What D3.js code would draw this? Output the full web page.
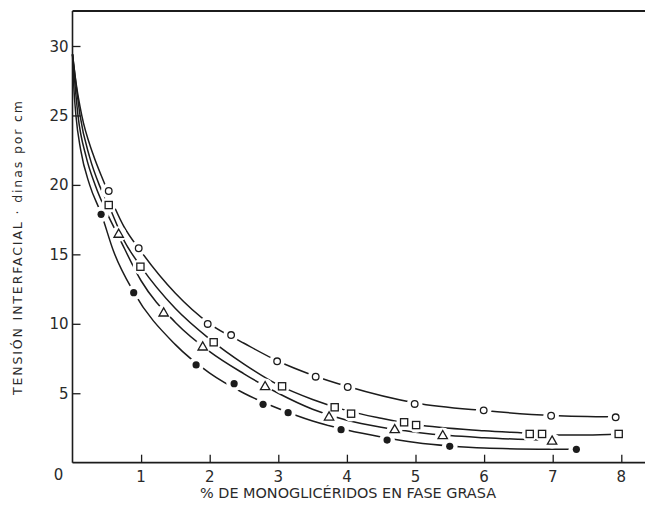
<!DOCTYPE html>
<html><head><meta charset="utf-8">
<script src="https://cdn.jsdelivr.net/npm/d3@7"></script>
<style>body{margin:0;background:#fff}svg{display:block}</style>
</head><body>
<svg id="c" width="645" height="514"></svg>
<script>
// ---- data ----
const xTicks = [1,2,3,4,5,6,7,8];
const yTicks = [5,10,15,20,25,30];
const xLabel = "% DE MONOGLICÉRIDOS EN FASE GRASA";
const yLabel = "TENSIÓN INTERFACIAL · dinas por cm";

// open circles
const circleX = [0.528,0.965,1.971,2.312,2.983,3.545,4.012,4.988,5.994,6.977,7.918];
const circleY = [19.56,15.44,9.99,9.19,7.30,6.19,5.45,4.23,3.77,3.38,3.27];
// open squares
const squareX = [0.528,0.990,2.058,3.055,3.822,4.061,4.834,5.009,6.665,6.845,7.962];
const squareY = [18.55,14.11,8.67,5.50,3.99,3.53,2.91,2.71,2.07,2.07,2.07];
// open triangles
const triX = [0.673,1.329,1.898,2.808,3.740,4.697,5.397,6.991];
const triY = [16.47,10.80,8.35,5.50,3.31,2.40,1.97,1.58];
// filled circles
const dotX = [0.417,0.892,1.802,2.356,2.778,3.143,3.915,4.586,5.499,7.345];
const dotY = [17.88,12.24,7.04,5.69,4.20,3.60,2.38,1.63,1.18,0.96];

// fitted curves
const circleCurveX = [0,0.05,0.135,0.3,0.45,0.75,1,1.5,2,2.5,3,3.5,4,5,6,7,7.92];
const circleCurveY = [29.4,27.4,25.0,22.2,20.3,17.0,15.2,12.2,10.0,8.6,7.3,6.3,5.5,4.3,3.75,3.4,3.3];
const squareCurveX = [0,0.05,0.11,0.25,0.39,0.53,0.75,1,1.5,2,2.5,3,3.5,4,4.5,5,6,6.7,7,7.5,7.96];
const squareCurveY = [29.4,27.3,25.0,22.0,20.0,18.5,16.0,14.1,11.1,8.9,7.1,5.6,4.55,3.75,3.2,2.75,2.3,2.1,2.0,2.0,2.07];
const triCurveX = [0,0.04,0.08,0.2,0.33,0.5,0.67,1,1.5,2,2.5,3,3.5,4,4.5,5,5.5,6,7];
const triCurveY = [29.4,27.0,25.0,22.0,20.0,18.0,16.3,13.1,10.1,8.0,6.4,5.0,3.85,3.05,2.55,2.2,1.95,1.8,1.6];
const dotCurveX = [0,0.02,0.05,0.12,0.25,0.42,0.6,0.89,1.5,2,2.5,3,3.5,4,4.5,5,5.5,6,7,7.35];
const dotCurveY = [29.4,27.0,25.0,22.5,20.0,17.9,15.2,12.3,8.5,6.45,5.0,3.9,3.0,2.35,1.85,1.45,1.2,1.05,0.97,0.96];

// ---- drawing ----
const svg = d3.select("#c");
const W = 645, H = 514;
const x = d3.scaleLinear().domain([0,8]).range([72.5, 621.3]);
const y = d3.scaleLinear().domain([0,30]).range([462.7, 46]);
const ink = "#1c1c1c";

const zip = (a,b) => a.map((v,i)=>[v,b[i]]);
const series = [
  {pts: zip(circleX,circleY), curve: zip(circleCurveX,circleCurveY), shape:"circle"},
  {pts: zip(squareX,squareY), curve: zip(squareCurveX,squareCurveY), shape:"square"},
  {pts: zip(triX,triY), curve: zip(triCurveX,triCurveY), shape:"triangle"},
  {pts: zip(dotX,dotY), curve: zip(dotCurveX,dotCurveY), shape:"dot"}
];

// curves first, so the frame and halos sit on top
const line = d3.line().x(d=>x(d[0])).y(d=>y(d[1])).curve(d3.curveMonotoneX);
svg.append("g").selectAll("path").data(series).join("path")
  .attr("d",d=>line(d.curve)).attr("fill","none").attr("stroke",ink).attr("stroke-width",1.5);

// white halos that break the lines around markers
const allPts = series.flatMap(s=>s.pts.map(p=>({p, shape:s.shape})));
svg.append("g").selectAll("circle").data(allPts).join("circle")
  .attr("cx",d=>x(d.p[0])).attr("cy",d=>y(d.p[1])).attr("r",7.8).attr("fill","#fff");

// frame: left axis, bottom axis, top border
const topVal = y.invert(11);
svg.append("line").attr("x1",x(0)).attr("x2",x(0)).attr("y1",y(topVal)).attr("y2",y(0))
  .attr("stroke",ink).attr("stroke-width",1.6);
svg.append("line").attr("x1",x(0)).attr("x2",W).attr("y1",y(0)).attr("y2",y(0))
  .attr("stroke",ink).attr("stroke-width",1.8);
svg.append("line").attr("x1",x(0)).attr("x2",W).attr("y1",y(topVal)).attr("y2",y(topVal))
  .attr("stroke",ink).attr("stroke-width",1.8);

// axes with inward ticks
const fontFam = "'DejaVu Sans', sans-serif";
const gx = svg.append("g").attr("transform",`translate(0,${y(0)})`)
  .call(d3.axisTop(x).tickValues(xTicks).tickSize(8).tickFormat(""));
gx.select(".domain").remove();
gx.selectAll("line").attr("stroke",ink).attr("stroke-width",1.3);
svg.append("g").selectAll("text").data(xTicks).join("text")
  .attr("x",d=>x(d)).attr("y",y(0)+19).attr("text-anchor","middle")
  .attr("font-family",fontFam).attr("font-size",15).attr("fill","#2a2a2a").text(d=>d);

const gy = svg.append("g").attr("transform",`translate(${x(0)},0)`)
  .call(d3.axisRight(y).tickValues(yTicks).tickSize(8).tickFormat(""));
gy.select(".domain").remove();
gy.selectAll("line").attr("stroke",ink).attr("stroke-width",1.3);
svg.append("g").selectAll("text").data(yTicks).join("text")
  .attr("x",x(0)-4).attr("y",d=>y(d)+5.5).attr("text-anchor","end")
  .attr("font-family",fontFam).attr("font-size",15).attr("fill","#2a2a2a").text(d=>d);
svg.append("text").attr("x",x(0)-14).attr("y",y(0)+17).attr("text-anchor","middle")
  .attr("font-family",fontFam).attr("font-size",15).attr("fill","#2a2a2a").text("0");

// axis titles
svg.append("text").attr("x",348).attr("y",497.5).attr("text-anchor","middle")
  .attr("font-family",fontFam).attr("font-size",13.5)
  .attr("textLength",296).attr("lengthAdjust","spacingAndGlyphs")
  .attr("fill","#2a2a2a").text(xLabel);
svg.append("text").attr("transform","translate(22,248) rotate(-90)").attr("text-anchor","middle")
  .attr("font-family",fontFam).attr("font-size",12.5)
  .attr("textLength",294).attr("lengthAdjust","spacing")
  .attr("fill","#2a2a2a").text(yLabel);

// markers
const mg = svg.append("g");
allPts.forEach(d=>{
  const cx = x(d.p[0]), cy = y(d.p[1]);
  if (d.shape==="circle") {
    mg.append("circle").attr("cx",cx).attr("cy",cy).attr("r",3.3)
      .attr("fill","#fff").attr("stroke",ink).attr("stroke-width",1.3);
  } else if (d.shape==="square") {
    mg.append("rect").attr("x",cx-3.6).attr("y",cy-3.6).attr("width",7.2).attr("height",7.2)
      .attr("fill","#fff").attr("stroke",ink).attr("stroke-width",1.3);
  } else if (d.shape==="triangle") {
    mg.append("path").attr("d",d3.symbol().type(d3.symbolTriangle).size(38)())
      .attr("transform",`translate(${cx},${cy+0.6})`)
      .attr("fill","#fff").attr("stroke",ink).attr("stroke-width",1.3);
  } else {
    mg.append("circle").attr("cx",cx).attr("cy",cy).attr("r",3.6).attr("fill",ink);
  }
});
</script>
</body></html>
